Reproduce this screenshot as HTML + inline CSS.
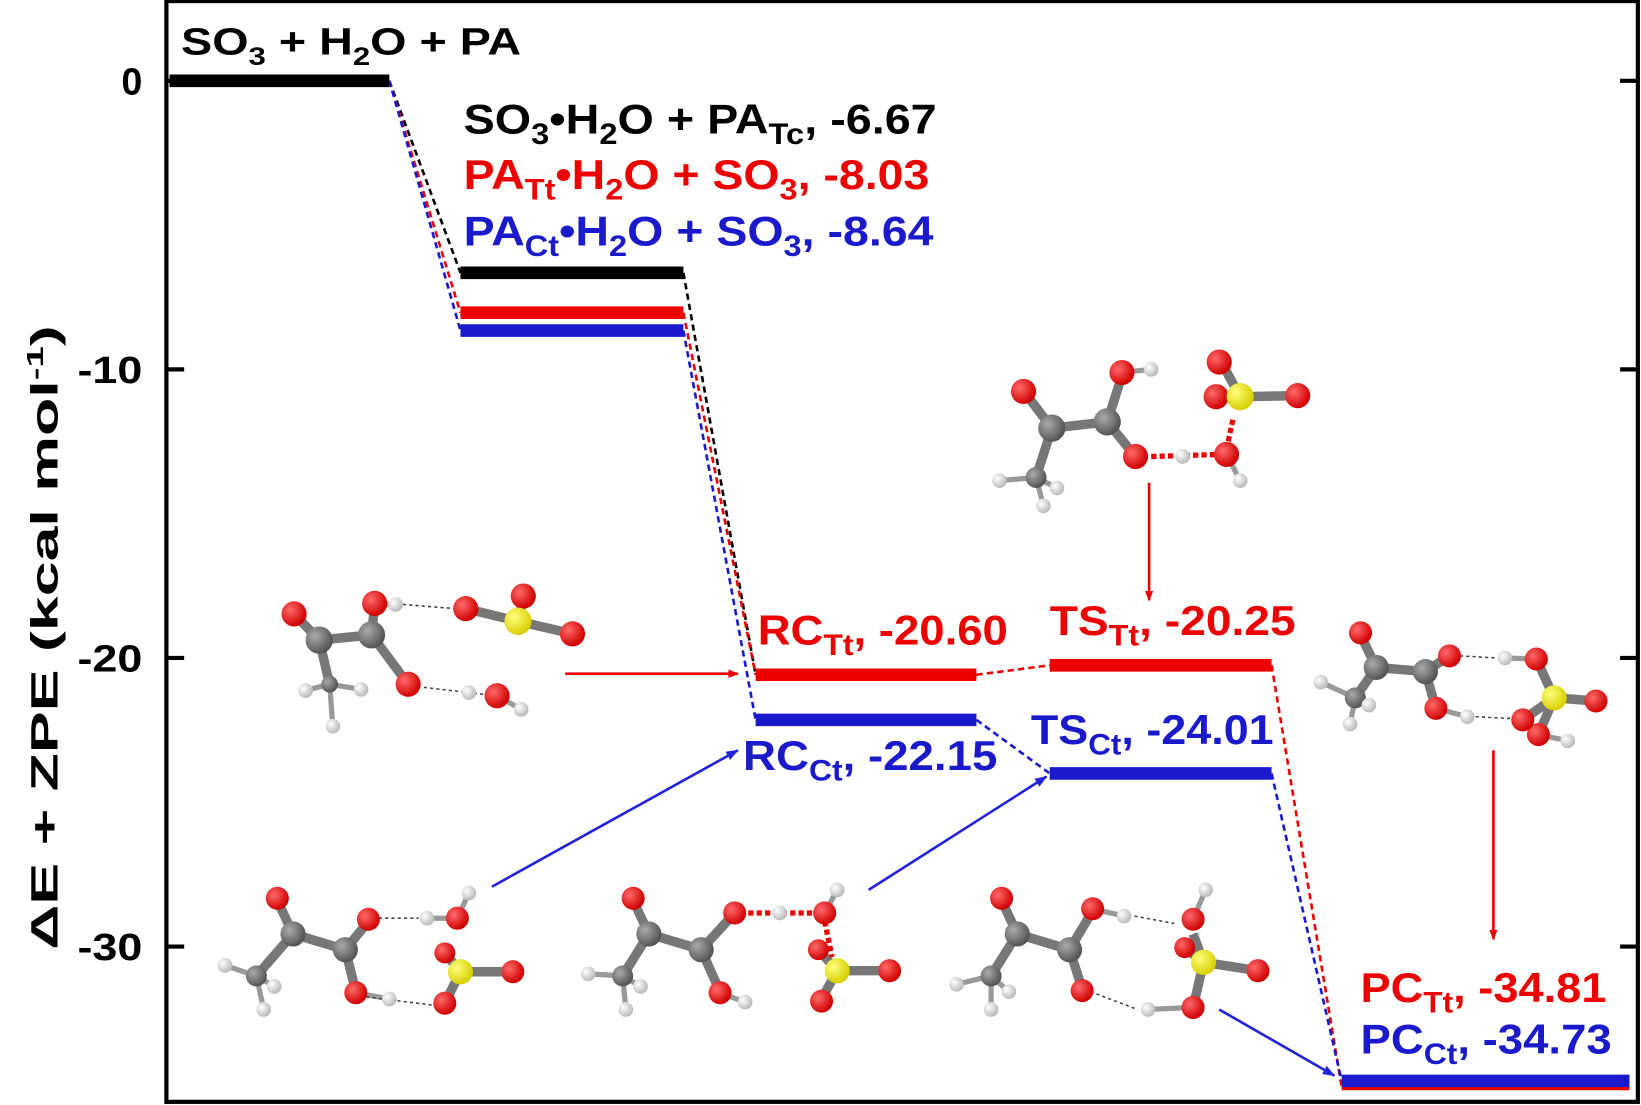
<!DOCTYPE html>
<html><head><meta charset="utf-8"><style>
html,body{margin:0;padding:0;background:#fff;overflow:hidden}
svg{display:block}
text{font-family:"Liberation Sans",sans-serif;font-weight:bold}
</style></head><body>
<svg width="1641" height="1105" viewBox="0 0 1568 1053" preserveAspectRatio="none" xmlns="http://www.w3.org/2000/svg">
<defs>
<marker id="ar" markerWidth="10" markerHeight="8" refX="9" refY="4" orient="auto" markerUnits="userSpaceOnUse"><path d="M0,0L10,4L0,8z" fill="#e00"/></marker>
<marker id="ab" markerWidth="12" markerHeight="9" refX="11" refY="4.5" orient="auto" markerUnits="userSpaceOnUse"><path d="M0,0L12,4.5L0,9z" fill="#2222dd"/></marker>
<radialGradient id="gO" cx="35%" cy="35%" r="65%"><stop offset="0" stop-color="#ff6a6a"/><stop offset="1" stop-color="#d00000"/></radialGradient>
<radialGradient id="gC" cx="35%" cy="35%" r="65%"><stop offset="0" stop-color="#aaa"/><stop offset="1" stop-color="#555"/></radialGradient>
<radialGradient id="gH" cx="35%" cy="35%" r="65%"><stop offset="0" stop-color="#fff"/><stop offset="1" stop-color="#bbb"/></radialGradient>
<radialGradient id="gS" cx="35%" cy="35%" r="65%"><stop offset="0" stop-color="#ffff80"/><stop offset="1" stop-color="#d8d000"/></radialGradient>
</defs>
<rect x="0" y="0" width="1568" height="1053" fill="#fff"/>
<rect x="159" y="1" width="1406" height="1049" fill="none" stroke="#000" stroke-width="4"/>
<g stroke="#000" stroke-width="4">
<line x1="159" y1="77" x2="176" y2="77"/><line x1="1548" y1="77" x2="1565" y2="77"/>
<line x1="159" y1="352" x2="176" y2="352"/><line x1="1548" y1="352" x2="1565" y2="352"/>
<line x1="159" y1="627" x2="176" y2="627"/><line x1="1548" y1="627" x2="1565" y2="627"/>
<line x1="159" y1="902" x2="176" y2="902"/><line x1="1548" y1="902" x2="1565" y2="902"/>
</g>
<g font-size="36" text-anchor="end">
<text x="136" y="90">0</text><text x="136" y="365" textLength="62" lengthAdjust="spacingAndGlyphs">-10</text><text x="136" y="640" textLength="62" lengthAdjust="spacingAndGlyphs">-20</text><text x="136" y="915" textLength="62" lengthAdjust="spacingAndGlyphs">-30</text>
</g>
<text transform="translate(55,905) rotate(-90)" font-size="36" textLength="595" lengthAdjust="spacingAndGlyphs">ΔE + ZPE (kcal mol<tspan font-size="22" dy="-14">-1</tspan><tspan dy="14">)</tspan></text>

<g stroke-width="2.5" stroke-dasharray="6,4" fill="none">
<line x1="372" y1="77" x2="440" y2="260" stroke="#000"/>
<line x1="372" y1="77" x2="440" y2="298" stroke="#e00"/>
<line x1="372" y1="77" x2="440" y2="315" stroke="#1a1acc"/>
<line x1="653" y1="260" x2="722" y2="643" stroke="#000"/>
<line x1="653" y1="298" x2="722" y2="643" stroke="#e00"/>
<line x1="653" y1="315" x2="722" y2="686" stroke="#1a1acc"/>
<line x1="933" y1="643" x2="1003" y2="634" stroke="#e00"/>
<line x1="933" y1="686" x2="1003" y2="737" stroke="#1a1acc"/>
<line x1="1215" y1="634" x2="1282" y2="1036" stroke="#e00"/>
<line x1="1215" y1="737" x2="1282" y2="1030" stroke="#1a1acc"/>
</g>
<g stroke-width="12">
<line x1="162" y1="77" x2="372" y2="77" stroke="#000"/>
<line x1="440" y1="260" x2="653" y2="260" stroke="#000"/>
<line x1="440" y1="298" x2="653" y2="298" stroke="#e00"/>
<line x1="440" y1="315" x2="653" y2="315" stroke="#1a1acc"/>
<line x1="722" y1="643" x2="933" y2="643" stroke="#e00"/>
<line x1="722" y1="686" x2="933" y2="686" stroke="#1a1acc"/>
<line x1="1003" y1="634" x2="1215" y2="634" stroke="#e00"/>
<line x1="1003" y1="737" x2="1215" y2="737" stroke="#1a1acc"/>
<line x1="1282" y1="1036" x2="1557" y2="1036" stroke="#e00" stroke-width="6"/>
<line x1="1282" y1="1030" x2="1557" y2="1030" stroke="#1a1acc"/>
</g>

<g font-size="40" lengthAdjust="spacingAndGlyphs">
<text x="173" y="52" fill="#000" font-size="36" textLength="325" lengthAdjust="spacingAndGlyphs">SO<tspan font-size="24" dy="10">3</tspan><tspan dy="-10"> + H</tspan><tspan font-size="24" dy="10">2</tspan><tspan dy="-10">O + PA</tspan></text>
<text x="443" y="127" fill="#000" textLength="452" lengthAdjust="spacingAndGlyphs">SO<tspan font-size="28" dy="10">3</tspan><tspan dy="-10">•H</tspan><tspan font-size="28" dy="10">2</tspan><tspan dy="-10">O + PA</tspan><tspan font-size="28" dy="10">Tc</tspan><tspan dy="-10">, -6.67</tspan></text>
<text x="443" y="180" fill="#e00" textLength="445" lengthAdjust="spacingAndGlyphs">PA<tspan font-size="28" dy="10">Tt</tspan><tspan dy="-10">•H</tspan><tspan font-size="28" dy="10">2</tspan><tspan dy="-10">O + SO</tspan><tspan font-size="28" dy="10">3</tspan><tspan dy="-10">, -8.03</tspan></text>
<text x="443" y="234" fill="#1a1acc" textLength="449" lengthAdjust="spacingAndGlyphs">PA<tspan font-size="28" dy="10">Ct</tspan><tspan dy="-10">•H</tspan><tspan font-size="28" dy="10">2</tspan><tspan dy="-10">O + SO</tspan><tspan font-size="28" dy="10">3</tspan><tspan dy="-10">, -8.64</tspan></text>
<text x="724" y="614" fill="#e00" textLength="239" lengthAdjust="spacingAndGlyphs">RC<tspan font-size="28" dy="10">Tt</tspan><tspan dy="-10">, -20.60</tspan></text>
<text x="1003" y="605" fill="#e00" textLength="235" lengthAdjust="spacingAndGlyphs">TS<tspan font-size="28" dy="10">Tt</tspan><tspan dy="-10">, -20.25</tspan></text>
<text x="710" y="734" fill="#1a1acc" textLength="243" lengthAdjust="spacingAndGlyphs">RC<tspan font-size="28" dy="10">Ct</tspan><tspan dy="-10">, -22.15</tspan></text>
<text x="985" y="709" fill="#1a1acc" textLength="232" lengthAdjust="spacingAndGlyphs">TS<tspan font-size="28" dy="10">Ct</tspan><tspan dy="-10">, -24.01</tspan></text>
<text x="1300" y="955" fill="#e00" textLength="235" lengthAdjust="spacingAndGlyphs">PC<tspan font-size="28" dy="10">Tt</tspan><tspan dy="-10">, -34.81</tspan></text>
<text x="1300" y="1004" fill="#1a1acc" textLength="240" lengthAdjust="spacingAndGlyphs">PC<tspan font-size="28" dy="10">Ct</tspan><tspan dy="-10">, -34.73</tspan></text>
</g>

<g stroke-width="2.5" fill="none">
<line x1="540" y1="642" x2="705" y2="642" stroke="#e00" marker-end="url(#ar)"/>
<line x1="1098" y1="460" x2="1098" y2="572" stroke="#e00" marker-end="url(#ar)"/>
<line x1="1427" y1="715" x2="1427" y2="895" stroke="#e00" marker-end="url(#ar)"/>
<line x1="470" y1="845" x2="705" y2="715" stroke="#2222dd" marker-end="url(#ab)"/>
<line x1="830" y1="848" x2="1000" y2="740" stroke="#2222dd" marker-end="url(#ab)"/>
<line x1="1165" y1="962" x2="1275" y2="1025" stroke="#2222dd" marker-end="url(#ab)"/>
</g>

<g>
<g stroke="#777" stroke-width="9"><line x1="283" y1="587" x2="305" y2="610"/><line x1="305" y1="610" x2="355" y2="605"/><line x1="355" y1="605" x2="358" y2="577"/><line x1="355" y1="605" x2="390" y2="652"/><line x1="305" y1="610" x2="315" y2="652"/><line x1="495" y1="592" x2="445" y2="580"/><line x1="495" y1="592" x2="547" y2="604"/><line x1="495" y1="592" x2="500" y2="570"/></g>
<g stroke="#999" stroke-width="5"><line x1="315" y1="652" x2="292" y2="658"/><line x1="315" y1="652" x2="345" y2="657"/><line x1="315" y1="652" x2="318" y2="692"/><line x1="358" y1="575" x2="378" y2="576"/><line x1="475" y1="663" x2="498" y2="676"/></g>
<g stroke="#444" stroke-width="1.5" stroke-dasharray="3,3"><line x1="385" y1="576" x2="435" y2="580"/><line x1="405" y1="655" x2="465" y2="662"/></g>
<circle cx="315" cy="652" r="8" fill="url(#gC)"/><circle cx="292" cy="658" r="7" fill="url(#gH)"/><circle cx="345" cy="657" r="7" fill="url(#gH)"/><circle cx="318" cy="692" r="7" fill="url(#gH)"/>
<circle cx="305" cy="610" r="13" fill="url(#gC)"/><circle cx="355" cy="605" r="13" fill="url(#gC)"/>
<circle cx="281" cy="585" r="12" fill="url(#gO)"/><circle cx="358" cy="575" r="12" fill="url(#gO)"/><circle cx="378" cy="576" r="7" fill="url(#gH)"/><circle cx="390" cy="652" r="12" fill="url(#gO)"/>
<circle cx="445" cy="580" r="12" fill="url(#gO)"/><circle cx="500" cy="568" r="12" fill="url(#gO)"/><circle cx="495" cy="592" r="13" fill="url(#gS)"/><circle cx="547" cy="604" r="12" fill="url(#gO)"/>
<circle cx="475" cy="663" r="12" fill="url(#gO)"/><circle cx="498" cy="676" r="7" fill="url(#gH)"/><circle cx="448" cy="660" r="7" fill="url(#gH)"/>
</g>
<g>
<g stroke="#777" stroke-width="9"><line x1="980" y1="375" x2="1005" y2="408"/><line x1="1005" y1="408" x2="1058" y2="402"/><line x1="1058" y1="402" x2="1072" y2="358"/><line x1="1058" y1="402" x2="1085" y2="435"/><line x1="1005" y1="408" x2="990" y2="455"/><line x1="1185" y1="378" x2="1168" y2="347"/><line x1="1185" y1="378" x2="1240" y2="377"/><line x1="1185" y1="378" x2="1162" y2="378"/></g>
<g stroke="#999" stroke-width="5"><line x1="990" y1="455" x2="955" y2="458"/><line x1="990" y1="455" x2="997" y2="482"/><line x1="990" y1="455" x2="1010" y2="465"/><line x1="1072" y1="355" x2="1100" y2="352"/><line x1="1172" y1="433" x2="1185" y2="458"/></g>
<g stroke="#e00" stroke-width="5" stroke-dasharray="5,3"><line x1="1100" y1="435" x2="1170" y2="433"/><line x1="1178" y1="400" x2="1172" y2="428"/></g>
<circle cx="990" cy="455" r="10" fill="url(#gC)"/><circle cx="955" cy="458" r="7" fill="url(#gH)"/><circle cx="997" cy="482" r="7" fill="url(#gH)"/><circle cx="1010" cy="465" r="7" fill="url(#gH)"/>
<circle cx="1005" cy="408" r="13" fill="url(#gC)"/><circle cx="1058" cy="402" r="13" fill="url(#gC)"/>
<circle cx="978" cy="373" r="12" fill="url(#gO)"/><circle cx="1072" cy="355" r="12" fill="url(#gO)"/><circle cx="1100" cy="352" r="7" fill="url(#gH)"/><circle cx="1085" cy="435" r="12" fill="url(#gO)"/><circle cx="1130" cy="435" r="7" fill="url(#gH)"/>
<circle cx="1165" cy="345" r="12" fill="url(#gO)"/><circle cx="1162" cy="378" r="12" fill="url(#gO)"/><circle cx="1185" cy="378" r="13" fill="url(#gS)"/><circle cx="1240" cy="377" r="12" fill="url(#gO)"/><circle cx="1172" cy="433" r="12" fill="url(#gO)"/><circle cx="1185" cy="458" r="7" fill="url(#gH)"/>
</g>
<g>
<g stroke="#777" stroke-width="9"><line x1="1300" y1="605" x2="1315" y2="636"/><line x1="1315" y1="636" x2="1362" y2="640"/><line x1="1362" y1="640" x2="1385" y2="625"/><line x1="1362" y1="640" x2="1372" y2="675"/><line x1="1315" y1="636" x2="1295" y2="665"/><line x1="1485" y1="665" x2="1468" y2="628"/><line x1="1485" y1="665" x2="1525" y2="668"/><line x1="1485" y1="665" x2="1470" y2="700"/><line x1="1485" y1="665" x2="1455" y2="686"/></g>
<g stroke="#999" stroke-width="5"><line x1="1295" y1="665" x2="1262" y2="650"/><line x1="1295" y1="665" x2="1290" y2="690"/><line x1="1295" y1="665" x2="1308" y2="672"/><line x1="1372" y1="675" x2="1402" y2="683"/><line x1="1468" y1="628" x2="1438" y2="627"/><line x1="1470" y1="700" x2="1498" y2="706"/></g>
<g stroke="#444" stroke-width="1.5" stroke-dasharray="3,3"><line x1="1395" y1="625" x2="1430" y2="627"/><line x1="1410" y1="683" x2="1450" y2="685"/></g>
<circle cx="1295" cy="665" r="10" fill="url(#gC)"/><circle cx="1262" cy="650" r="7" fill="url(#gH)"/><circle cx="1290" cy="690" r="7" fill="url(#gH)"/><circle cx="1308" cy="672" r="7" fill="url(#gH)"/>
<circle cx="1315" cy="636" r="12" fill="url(#gC)"/><circle cx="1362" cy="640" r="12" fill="url(#gC)"/>
<circle cx="1300" cy="603" r="11" fill="url(#gO)"/><circle cx="1385" cy="625" r="11" fill="url(#gO)"/><circle cx="1372" cy="675" r="11" fill="url(#gO)"/><circle cx="1402" cy="683" r="7" fill="url(#gH)"/>
<circle cx="1438" cy="627" r="7" fill="url(#gH)"/><circle cx="1468" cy="628" r="11" fill="url(#gO)"/><circle cx="1485" cy="665" r="12" fill="url(#gS)"/><circle cx="1525" cy="668" r="11" fill="url(#gO)"/><circle cx="1470" cy="700" r="11" fill="url(#gO)"/><circle cx="1455" cy="686" r="11" fill="url(#gO)"/><circle cx="1498" cy="706" r="7" fill="url(#gH)"/>
</g>
<g>
<g stroke="#777" stroke-width="9"><line x1="265" y1="858" x2="280" y2="890"/><line x1="280" y1="890" x2="330" y2="905"/><line x1="330" y1="905" x2="352" y2="878"/><line x1="330" y1="905" x2="340" y2="945"/><line x1="280" y1="890" x2="245" y2="930"/><line x1="440" y1="926" x2="425" y2="908"/><line x1="440" y1="926" x2="490" y2="926"/><line x1="440" y1="926" x2="425" y2="956"/></g>
<g stroke="#999" stroke-width="5"><line x1="245" y1="930" x2="215" y2="920"/><line x1="245" y1="930" x2="252" y2="962"/><line x1="245" y1="930" x2="262" y2="940"/><line x1="340" y1="946" x2="372" y2="952"/><line x1="408" y1="875" x2="437" y2="875"/><line x1="437" y1="875" x2="448" y2="851"/></g>
<g stroke="#444" stroke-width="1.5" stroke-dasharray="3,3"><line x1="362" y1="875" x2="400" y2="875"/><line x1="350" y1="950" x2="415" y2="958"/></g>
<circle cx="245" cy="930" r="10" fill="url(#gC)"/><circle cx="215" cy="920" r="7" fill="url(#gH)"/><circle cx="252" cy="962" r="7" fill="url(#gH)"/><circle cx="262" cy="940" r="7" fill="url(#gH)"/>
<circle cx="280" cy="890" r="12" fill="url(#gC)"/><circle cx="330" cy="905" r="12" fill="url(#gC)"/>
<circle cx="265" cy="856" r="11" fill="url(#gO)"/><circle cx="352" cy="876" r="11" fill="url(#gO)"/><circle cx="340" cy="946" r="11" fill="url(#gO)"/><circle cx="372" cy="952" r="7" fill="url(#gH)"/>
<circle cx="408" cy="875" r="7" fill="url(#gH)"/><circle cx="437" cy="875" r="11" fill="url(#gO)"/><circle cx="448" cy="851" r="7" fill="url(#gH)"/>
<circle cx="425" cy="908" r="10" fill="url(#gO)"/><circle cx="440" cy="926" r="12" fill="url(#gS)"/><circle cx="490" cy="926" r="11" fill="url(#gO)"/><circle cx="425" cy="956" r="11" fill="url(#gO)"/>
</g>
<g transform="translate(340,0)">
<g stroke="#777" stroke-width="9"><line x1="265" y1="858" x2="280" y2="890"/><line x1="280" y1="890" x2="330" y2="905"/><line x1="330" y1="905" x2="362" y2="870"/><line x1="330" y1="905" x2="348" y2="945"/><line x1="280" y1="890" x2="255" y2="930"/><line x1="460" y1="925" x2="442" y2="905"/><line x1="460" y1="925" x2="510" y2="925"/><line x1="460" y1="925" x2="445" y2="952"/></g>
<g stroke="#999" stroke-width="5"><line x1="255" y1="930" x2="222" y2="928"/><line x1="255" y1="930" x2="258" y2="962"/><line x1="255" y1="930" x2="272" y2="940"/><line x1="348" y1="946" x2="372" y2="955"/><line x1="448" y1="870" x2="460" y2="848"/></g>
<g stroke="#e00" stroke-width="5" stroke-dasharray="5,3"><line x1="375" y1="870" x2="445" y2="870"/><line x1="448" y1="878" x2="455" y2="912"/></g>
<circle cx="255" cy="930" r="10" fill="url(#gC)"/><circle cx="222" cy="928" r="7" fill="url(#gH)"/><circle cx="258" cy="962" r="7" fill="url(#gH)"/><circle cx="272" cy="940" r="7" fill="url(#gH)"/>
<circle cx="280" cy="890" r="12" fill="url(#gC)"/><circle cx="330" cy="905" r="12" fill="url(#gC)"/>
<circle cx="265" cy="856" r="11" fill="url(#gO)"/><circle cx="362" cy="870" r="11" fill="url(#gO)"/><circle cx="348" cy="946" r="11" fill="url(#gO)"/><circle cx="372" cy="955" r="7" fill="url(#gH)"/>
<circle cx="405" cy="870" r="7" fill="url(#gH)"/><circle cx="448" cy="870" r="11" fill="url(#gO)"/><circle cx="460" cy="848" r="7" fill="url(#gH)"/>
<circle cx="442" cy="905" r="10" fill="url(#gO)"/><circle cx="460" cy="925" r="12" fill="url(#gS)"/><circle cx="510" cy="925" r="11" fill="url(#gO)"/><circle cx="445" cy="954" r="11" fill="url(#gO)"/>
</g>
<g transform="translate(692,0)">
<g stroke="#777" stroke-width="9"><line x1="265" y1="858" x2="280" y2="890"/><line x1="280" y1="890" x2="330" y2="905"/><line x1="330" y1="905" x2="352" y2="868"/><line x1="330" y1="905" x2="342" y2="942"/><line x1="280" y1="890" x2="255" y2="930"/><line x1="458" y1="917" x2="448" y2="890"/><line x1="458" y1="917" x2="510" y2="925"/><line x1="458" y1="917" x2="440" y2="903"/><line x1="458" y1="917" x2="448" y2="960"/></g>
<g stroke="#999" stroke-width="5"><line x1="255" y1="930" x2="222" y2="938"/><line x1="255" y1="930" x2="255" y2="962"/><line x1="255" y1="930" x2="272" y2="945"/><line x1="352" y1="866" x2="382" y2="873"/><line x1="448" y1="876" x2="460" y2="848"/><line x1="448" y1="960" x2="405" y2="962"/></g>
<g stroke="#444" stroke-width="1.5" stroke-dasharray="3,3"><line x1="392" y1="873" x2="430" y2="880"/><line x1="350" y1="945" x2="395" y2="962"/></g>
<circle cx="255" cy="930" r="10" fill="url(#gC)"/><circle cx="222" cy="938" r="7" fill="url(#gH)"/><circle cx="255" cy="962" r="7" fill="url(#gH)"/><circle cx="272" cy="945" r="7" fill="url(#gH)"/>
<circle cx="280" cy="890" r="12" fill="url(#gC)"/><circle cx="330" cy="905" r="12" fill="url(#gC)"/>
<circle cx="265" cy="856" r="11" fill="url(#gO)"/><circle cx="352" cy="866" r="11" fill="url(#gO)"/><circle cx="342" cy="944" r="11" fill="url(#gO)"/><circle cx="382" cy="873" r="7" fill="url(#gH)"/>
<circle cx="448" cy="876" r="11" fill="url(#gO)"/><circle cx="460" cy="848" r="7" fill="url(#gH)"/><circle cx="440" cy="903" r="10" fill="url(#gO)"/><circle cx="458" cy="917" r="12" fill="url(#gS)"/><circle cx="510" cy="925" r="11" fill="url(#gO)"/><circle cx="448" cy="960" r="11" fill="url(#gO)"/><circle cx="405" cy="962" r="7" fill="url(#gH)"/>
</g>
</svg>
</body></html>
